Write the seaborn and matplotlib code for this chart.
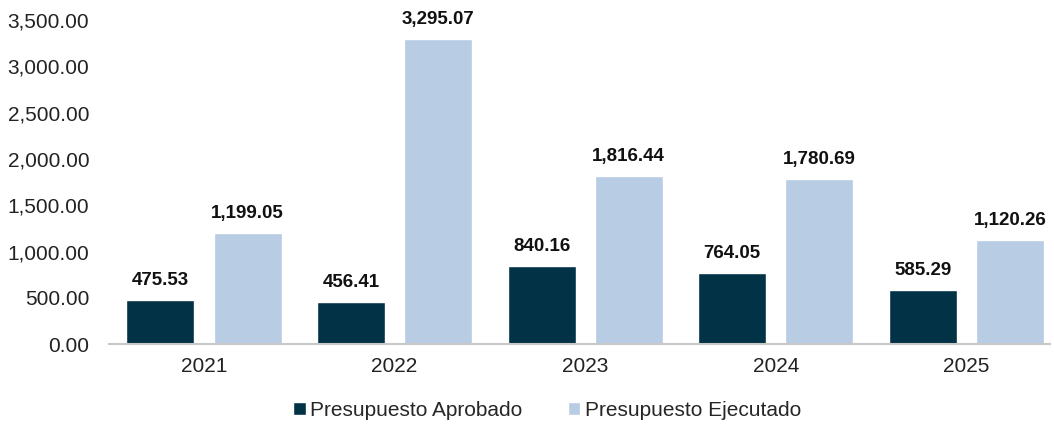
import pandas as pd
import matplotlib
matplotlib.use("Agg")
import matplotlib.pyplot as plt
import seaborn as sns

years = ["2021", "2022", "2023", "2024", "2025"]
aprobado = [475.53, 456.41, 840.16, 764.05, 585.29]
ejecutado = [1199.05, 3295.07, 1816.44, 1780.69, 1120.26]
series = ["Presupuesto Aprobado", "Presupuesto Ejecutado"]
colors = ["#023246", "#B8CCE4"]

df = pd.DataFrame({
    "year": years * 2,
    "value": aprobado + ejecutado,
    "serie": [series[0]] * len(years) + [series[1]] * len(years),
})

sns.set_style("white")
plt.rcParams["font.family"] = ["Liberation Sans", "DejaVu Sans"]

fig = plt.figure(figsize=(10.54, 4.25), dpi=100)
ax = fig.add_axes([0.1031, 0.19, 0.8931, 0.763])

sns.barplot(data=df, x="year", y="value", hue="serie", palette=colors,
            width=0.914, gap=0.219, saturation=1, ax=ax, legend=True)

for cont in ax.containers:
    ax.bar_label(cont, labels=[f"{v:,.2f}" for v in cont.datavalues],
                 padding=8, fontsize=13.5, fontweight="bold", color="#111111")

ax.set_ylim(0, 3500)
ax.set_yticks(range(0, 3501, 500))
ax.set_yticklabels([f"{v:,.2f}" for v in range(0, 3501, 500)])
ax.set_xlim(-0.5, 4.439)
ax.set_xlabel("")
ax.set_ylabel("")
ax.tick_params(axis="both", length=0, labelsize=15, colors="#222222")
ax.tick_params(axis="x", pad=9)
ax.tick_params(axis="y", pad=14)
for s in ["top", "right", "left"]:
    ax.spines[s].set_visible(False)
ax.spines["bottom"].set_color("#C8C8C8")
ax.spines["bottom"].set_linewidth(1.5)

handles, labels = ax.get_legend_handles_labels()
ax.get_legend().remove()
fig.legend(handles, labels, loc="center", bbox_to_anchor=(0.519, 0.035), ncol=2,
           frameon=False, fontsize=15, handlelength=0.6, handleheight=0.6,
           handletextpad=0.2, columnspacing=2.2)

fig.savefig("out.png", dpi=100)
